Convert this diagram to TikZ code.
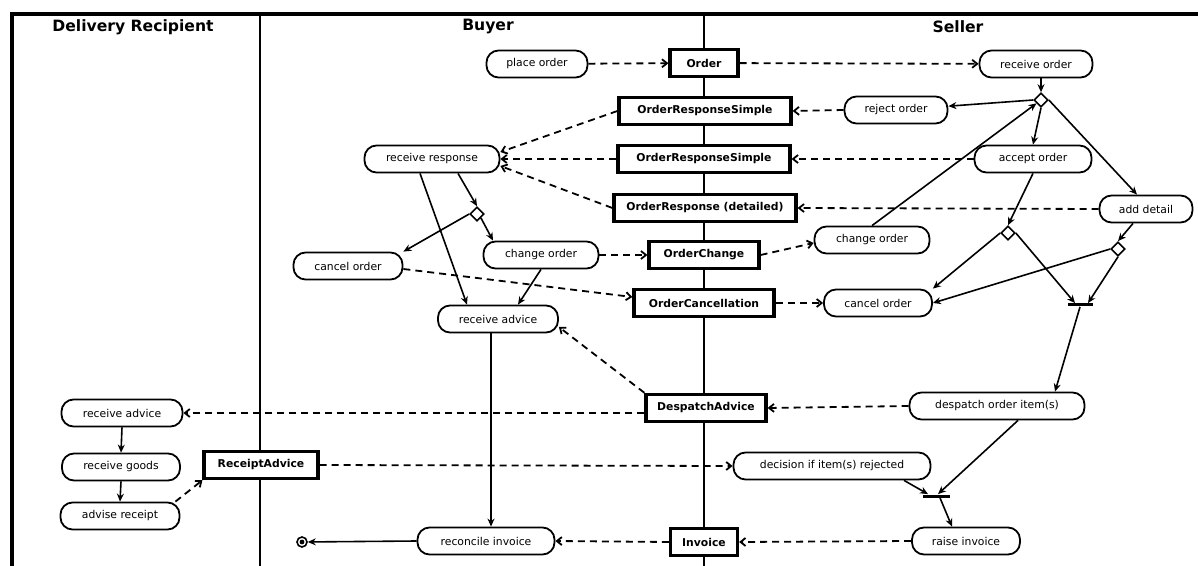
\documentclass[tikz,border=0pt]{standalone}
\usepackage{fontspec}
\setmainfont{DejaVu Sans}
\usetikzlibrary{arrows.meta,shapes.geometric}

\begin{document}
\begin{tikzpicture}[x=0.5pt, y=-0.5pt,
    act/.style={draw, rectangle, rounded corners=6pt, line width=0.9pt, fill=white, minimum height=13.5pt, inner sep=0pt, font=\fontsize{5.4}{6}\selectfont},
    obj/.style={draw, rectangle, line width=1.6pt, fill=white, minimum height=13.6pt, inner sep=0pt, font=\bfseries\fontsize{5.4}{6}\selectfont},
    choice/.style={draw, diamond, line width=0.8pt, fill=white, minimum size=7pt, inner sep=0pt},
    bar/.style={fill=black, minimum height=1.5pt, inner sep=0pt},
    final/.style={draw, circle, line width=0.8pt, minimum size=5pt, inner sep=0pt, path picture={\fill (path picture bounding box.center) circle (1.2pt);}},
    lane/.style={font=\bfseries\fontsize{7.8}{9}\selectfont},
    flow/.style={-{Stealth[length=4pt,width=3.5pt]}, line width=0.8pt},
    msg/.style={-{Straight Barb[length=2.5pt,width=4pt]}, line width=0.9pt, dash pattern=on 3.5pt off 2.5pt}]
    \useasboundingbox (0,0) rectangle (1198,566);

    % Lanes
    \draw[line width=2pt] (12,566) -- (12,14) -- (1198,14);
    \draw[line width=1.4pt] (260,14) -- (260,566);
    \draw[line width=1.2pt] (704,14) -- (704,566);
    \node[lane] at (133,27) (tRecipient) {Delivery Recipient};
    \node[lane] at (488,27) (tBuyer) {Buyer};
    \node[lane] at (958,27) (tSeller) {Seller};

    % Activities
    \node[act, minimum width=50.5pt] at (537,64) (placeOrder) {place order};
    \node[act, minimum width=56.5pt] at (1036,64) (receiveOrder) {receive order};
    \node[act, minimum width=51.5pt] at (896,110) (rejectOrder) {reject order};
    \node[act, minimum width=67.5pt] at (432,159) (receiveResponse) {receive response};
    \node[act, minimum width=58.5pt] at (1033,159) (acceptOrder) {accept order};
    \node[act, minimum width=46.5pt] at (1146,209) (addDetail) {add detail};
    \node[act, minimum width=57.5pt] at (872,240) (changeSeller) {change order};
    \node[act, minimum width=57.5pt] at (541,255) (changeBuyer) {change order};
    \node[act, minimum width=54.5pt] at (348,266) (cancelBuyer) {cancel order};
    \node[act, minimum width=54pt] at (878,303) (cancelSeller) {cancel order};
    \node[act, minimum width=60pt] at (498,319) (adviceBuyer) {receive advice};
    \node[act, minimum width=87.5pt] at (997,406) (despatchItems) {despatch order item(s)};
    \node[act, minimum width=60.5pt] at (122,413) (adviceRecipient) {receive advice};
    \node[act, minimum width=59pt] at (121,467) (receiveGoods) {receive goods};
    \node[act, minimum width=59.5pt] at (120,516) (adviseReceipt) {advise receipt};
    \node[act, minimum width=98.5pt] at (832,466) (decision) {decision if item(s) rejected};
    \node[act, minimum width=54pt] at (966,541) (raiseInvoice) {raise invoice};
    \node[act, minimum width=68.5pt] at (486,541) (reconcile) {reconcile invoice};

    % Objects
    \node[obj, minimum width=34pt] at (704,63) (order) {Order};
    \node[obj, minimum width=86pt] at (705,111) (simpleA) {OrderResponseSimple};
    \node[obj, minimum width=86pt] at (704,159) (simpleB) {OrderResponseSimple};
    \node[obj, minimum width=91pt] at (705,208) (detailed) {OrderResponse (detailed)};
    \node[obj, minimum width=55pt] at (704,255) (orderChange) {OrderChange};
    \node[obj, minimum width=70pt] at (704,303) (cancellation) {OrderCancellation};
    \node[obj, minimum width=60pt] at (706,408) (despatchAdvice) {DespatchAdvice};
    \node[obj, minimum width=57pt] at (261,465) (receiptAdvice) {ReceiptAdvice};
    \node[obj, minimum width=33.5pt] at (704,542) (invoice) {Invoice};

    % Decisions, joins, end
    \node[choice] at (1041,100) (dOrder) {};
    \node[choice] at (477,214) (dResponse) {};
    \node[choice] at (1008,233) (dAccept) {};
    \node[choice] at (1118,249) (dDetail) {};
    \node[bar, minimum width=12.5pt] at (1080,305) (joinA) {};
    \node[bar, minimum width=13.5pt] at (936,496) (joinB) {};
    \node[final] at (302,542) (end) {};

    % Control flow
    \draw[flow] (receiveOrder.south -| dOrder.north) -- (dOrder.north);
    \draw[flow] (dOrder.west) -- (rejectOrder);
    \draw[flow] (dOrder.south) -- (acceptOrder.north);
    \draw[flow] (dOrder.east) -- ([xshift=-4.5pt]addDetail.north);
    \draw[flow] (changeSeller.north) -- (dOrder);
    \draw[flow] (acceptOrder.south) -- (dAccept.north);
    \draw[flow] ([xshift=-6.5pt]addDetail.south) -- (dDetail.north);
    \draw[flow] (dAccept.west) -- (cancelSeller.north east);
    \draw[flow] (dDetail.west) -- (cancelSeller.east);
    \draw[flow] (dAccept.east) -- ([xshift=-2.5pt]joinA.north);
    \draw[flow] (dDetail.south) -- ([xshift=4pt]joinA.north);
    \draw[flow] (joinA.south) -- ([xshift=29pt]despatchItems.north);
    \draw[flow] ([xshift=10.5pt]despatchItems.south) -- ([xshift=1pt]joinB.north);
    \draw[flow] ([xshift=36pt]decision.south) -- ([xshift=-4pt]joinB.north);
    \draw[flow] ([xshift=2pt]joinB.south) -- ([xshift=-7pt]raiseInvoice.north);
    \draw[flow] ([xshift=13pt]receiveResponse.south) -- (dResponse.north);
    \draw[flow] ([xshift=-6pt]receiveResponse.south) -- ([xshift=-15.5pt]adviceBuyer.north);
    \draw[flow] (dResponse.west) -- (cancelBuyer.north east);
    \draw[flow] (dResponse.south east) -- ([xshift=-24pt]changeBuyer.north);
    \draw[flow] (changeBuyer.south) -- ([xshift=10pt]adviceBuyer.north);
    \draw[flow] ([xshift=-3.5pt]adviceBuyer.south) -- ([xshift=-3.5pt]adviceBuyer.south |- reconcile.north);
    \draw[flow] (reconcile.west) -- (end);
    \draw[flow] (adviceRecipient.south) -- (receiveGoods.north);
    \draw[flow] (receiveGoods.south) -- (adviseReceipt.north);

    % Object flow
    \draw[msg] (placeOrder) -- (order);
    \draw[msg] (order) -- (receiveOrder);
    \draw[msg] (rejectOrder.west) -- (simpleA.east);
    \draw[msg] (simpleA.west) -- ([yshift=3.5pt]receiveResponse.east);
    \draw[msg] (acceptOrder.west) -- (simpleB.east);
    \draw[msg] (simpleB.west) -- (receiveResponse.east);
    \draw[msg] (addDetail.west) -- (detailed.east);
    \draw[msg] (detailed.west) -- ([yshift=-3.5pt]receiveResponse.east);
    \draw[msg] (changeBuyer.east) -- (orderChange.west);
    \draw[msg] (orderChange.east) -- ([yshift=-1.5pt]changeSeller.west);
    \draw[msg] ([yshift=-1.5pt]cancelBuyer.east) -- ([yshift=3pt]cancellation.west);
    \draw[msg] (cancellation.east) -- (cancelSeller.west);
    \draw[msg] (despatchItems.west) -- (despatchAdvice.east);
    \draw[msg] (despatchAdvice.north west) -- ([yshift=-4pt]adviceBuyer.east);
    \draw[msg] (despatchAdvice.west |- adviceRecipient.east) -- (adviceRecipient.east);
    \draw[msg] ([xshift=-2.5pt]adviseReceipt.north east) -- (receiptAdvice.south west);
    \draw[msg] (receiptAdvice.east) -- (decision.west);
    \draw[msg] (raiseInvoice.west) -- (invoice.east);
    \draw[msg] (invoice.west) -- (reconcile.east);
\end{tikzpicture}
\end{document}
